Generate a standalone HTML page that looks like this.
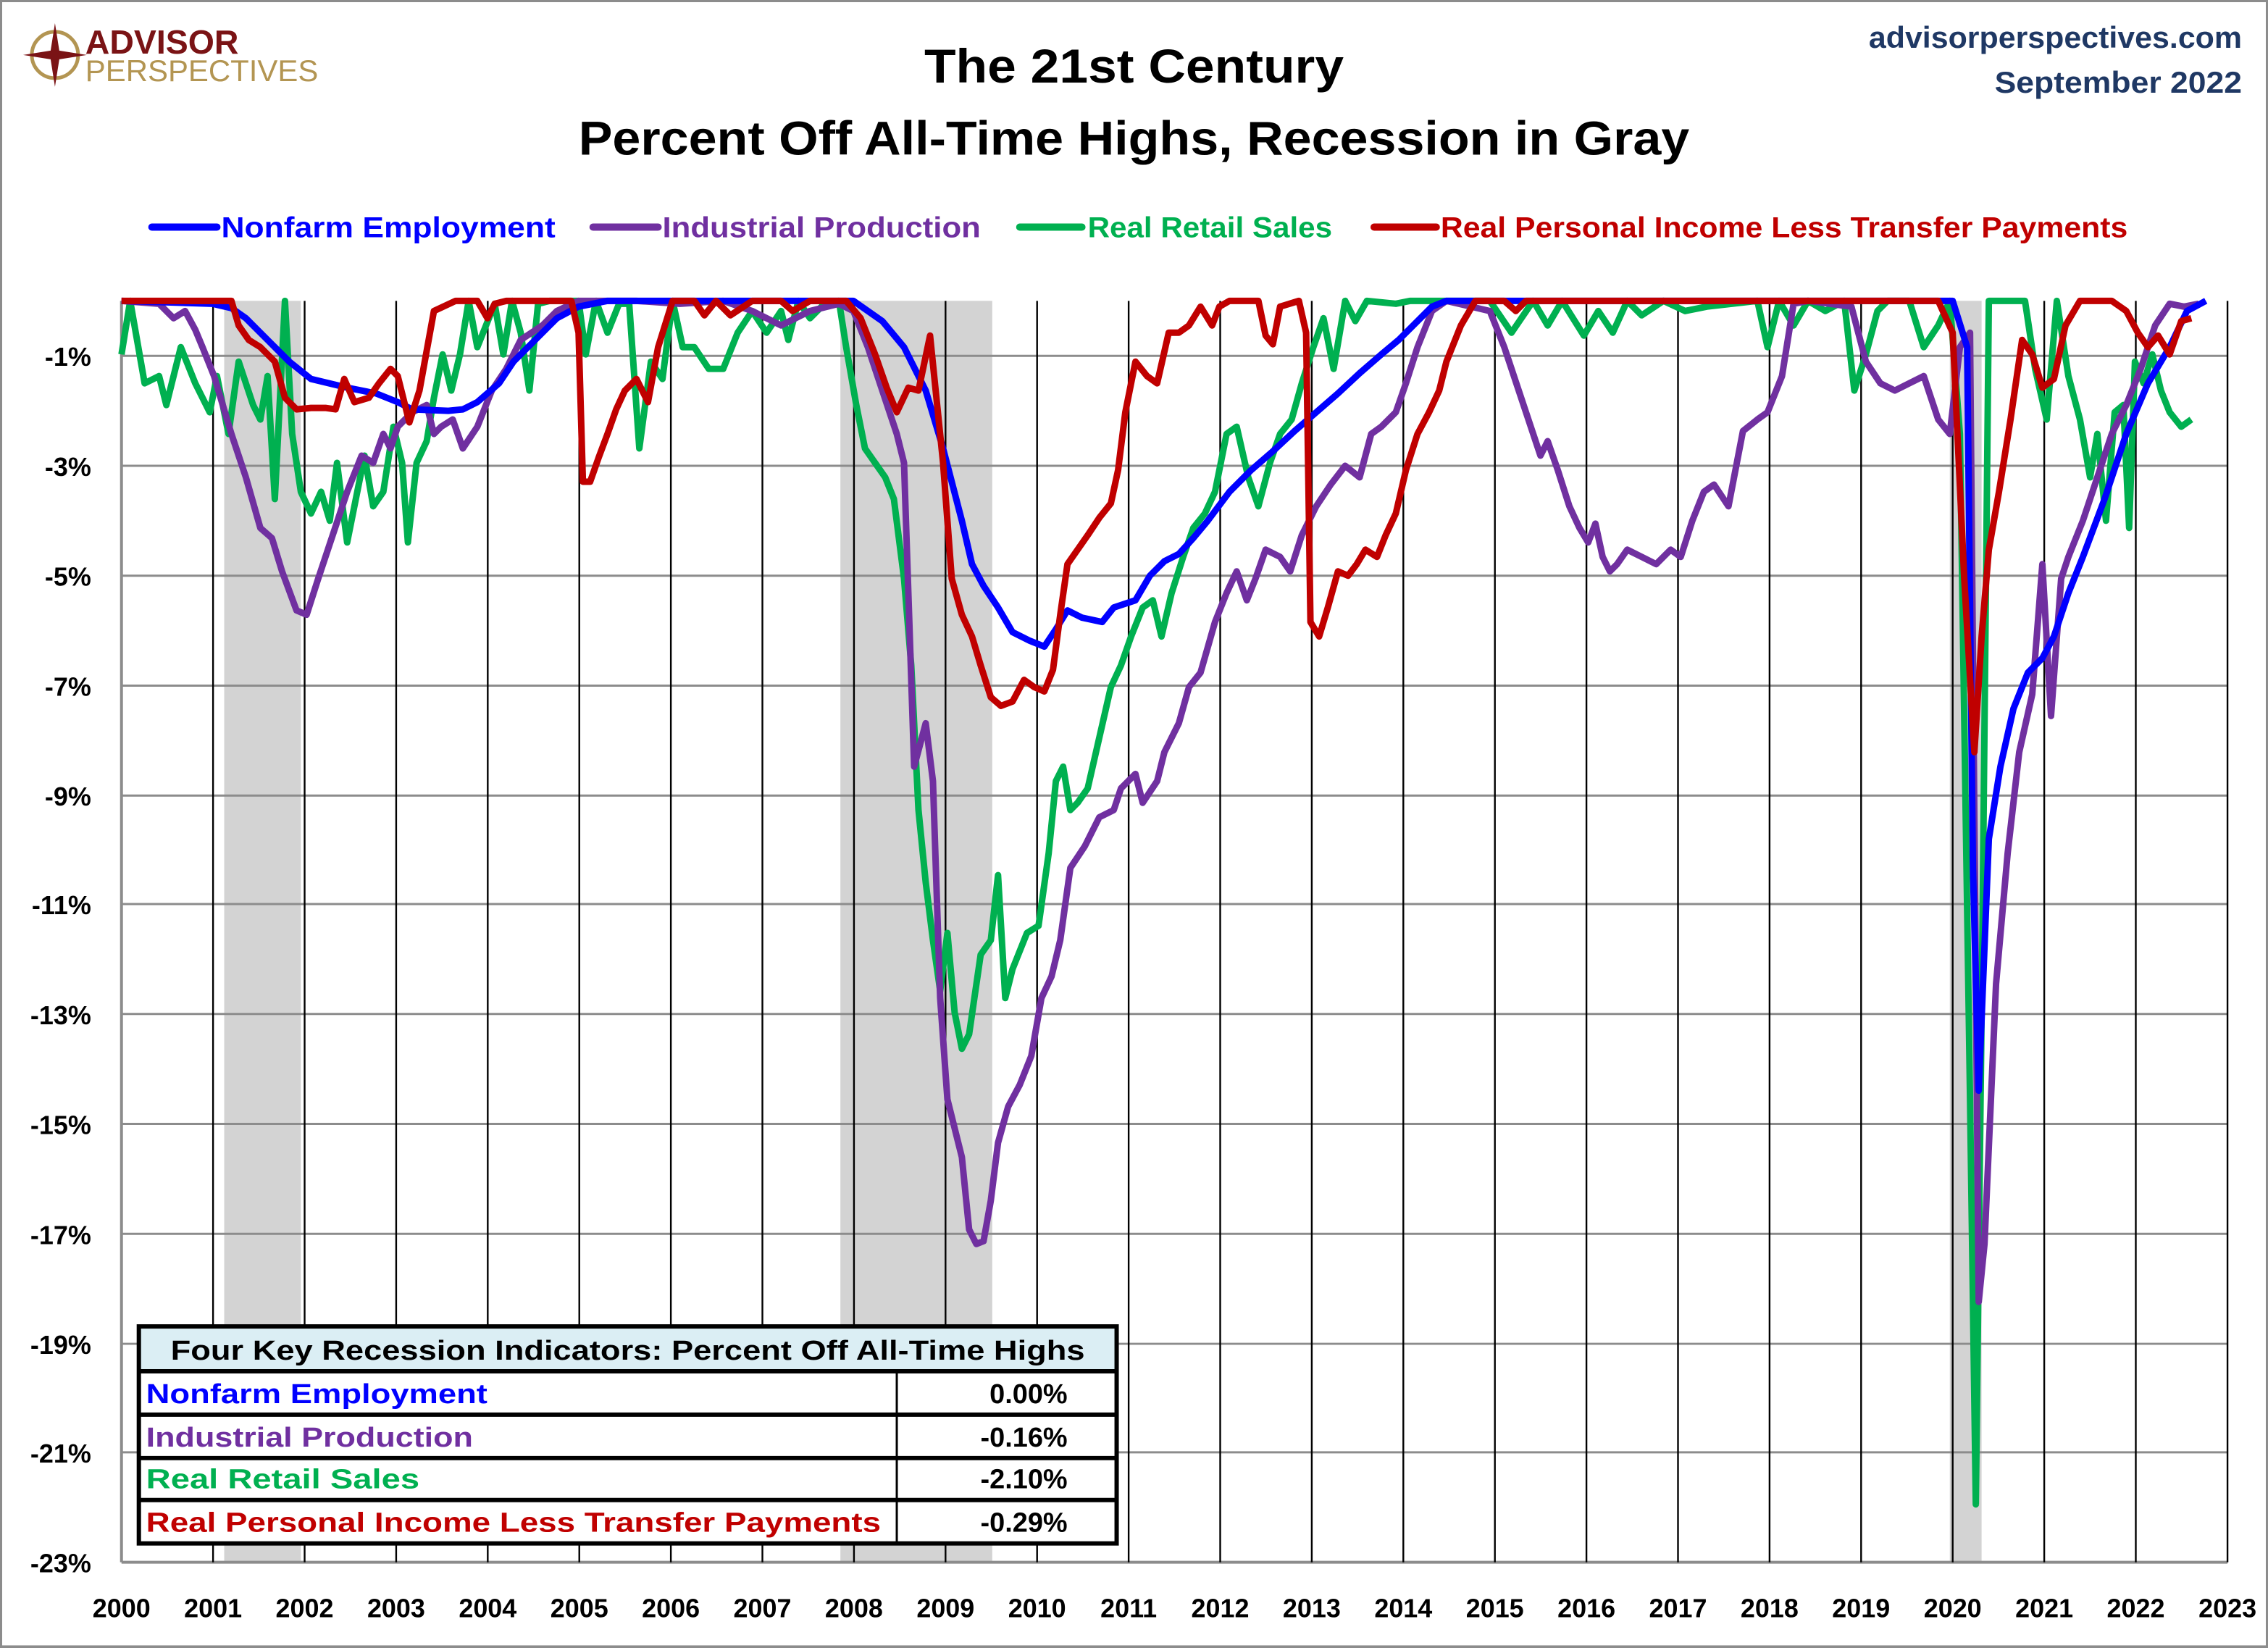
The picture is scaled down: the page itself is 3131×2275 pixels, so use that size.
<!DOCTYPE html>
<html><head><meta charset="utf-8"><style>
html,body{margin:0;padding:0;background:#fff;}
svg{display:block;}
text{font-family:"Liberation Sans",sans-serif;font-weight:bold;}
</style></head><body>
<svg width="3131" height="2275" viewBox="0 0 1568 1139.3" preserveAspectRatio="none" xmlns="http://www.w3.org/2000/svg">
<rect x="0.5" y="0.5" width="1567" height="1138" fill="#fff" stroke="#8c8c8c" stroke-width="2"/>
<circle cx="38" cy="38" r="16" fill="none" stroke="#b39552" stroke-width="2.5"/>
<polygon points="38,16 41,35 60,38 41,41 38,60 35,41 16,38 35,35" fill="#7a1315"/>
<text x="59" y="37" font-size="23" fill="#7a1315" textLength="106" lengthAdjust="spacingAndGlyphs">ADVISOR</text>
<text x="59" y="56" font-size="21" fill="#b39552" style="font-weight:normal" textLength="161" lengthAdjust="spacingAndGlyphs">PERSPECTIVES</text>
<text x="784" y="57" font-size="33" text-anchor="middle" textLength="290" lengthAdjust="spacingAndGlyphs">The 21st Century</text>
<text x="784" y="107" font-size="33" text-anchor="middle" textLength="768" lengthAdjust="spacingAndGlyphs">Percent Off All-Time Highs, Recession in Gray</text>
<text x="1550" y="33" font-size="21" text-anchor="end" fill="#1f3864" textLength="258" lengthAdjust="spacingAndGlyphs">advisorperspectives.com</text>
<text x="1550" y="64" font-size="21" text-anchor="end" fill="#1f3864" textLength="171" lengthAdjust="spacingAndGlyphs">September 2022</text>
<g stroke-width="5" stroke-linecap="round">
<line x1="105" y1="157" x2="150" y2="157" stroke="#0000ff"/>
<line x1="410" y1="157" x2="455" y2="157" stroke="#7030a0"/>
<line x1="705" y1="157" x2="748" y2="157" stroke="#00b050"/>
<line x1="950" y1="157" x2="993" y2="157" stroke="#c00000"/>
</g>
<g font-size="20">
<text x="153" y="164" fill="#0000ff" textLength="231" lengthAdjust="spacingAndGlyphs">Nonfarm Employment</text>
<text x="458" y="164" fill="#7030a0" textLength="220" lengthAdjust="spacingAndGlyphs">Industrial Production</text>
<text x="752" y="164" fill="#00b050" textLength="169" lengthAdjust="spacingAndGlyphs">Real Retail Sales</text>
<text x="996" y="164" fill="#c00000" textLength="475" lengthAdjust="spacingAndGlyphs">Real Personal Income Less Transfer Payments</text>
</g>
<g fill="#d3d3d3">
<rect x="155" y="208" width="53" height="872"/>
<rect x="581" y="208" width="105" height="872"/>
<rect x="1348" y="208" width="22" height="872"/>
</g>
<g stroke="#8c8c8c" stroke-width="1.5">
<line x1="84" x2="1540" y1="246" y2="246"/><line x1="84" x2="1540" y1="322" y2="322"/>
<line x1="84" x2="1540" y1="398" y2="398"/><line x1="84" x2="1540" y1="474" y2="474"/>
<line x1="84" x2="1540" y1="550" y2="550"/><line x1="84" x2="1540" y1="625" y2="625"/>
<line x1="84" x2="1540" y1="701" y2="701"/><line x1="84" x2="1540" y1="777" y2="777"/>
<line x1="84" x2="1540" y1="853" y2="853"/><line x1="84" x2="1540" y1="929" y2="929"/>
<line x1="84" x2="1540" y1="1004" y2="1004"/><line x1="84" x2="1540" y1="1080" y2="1080" stroke-width="2"/>
<line x1="84" x2="84" y1="208" y2="1080" stroke-width="2"/>
</g>
<g stroke="#000" stroke-width="1.2">
<line x1="147.3" x2="147.3" y1="208" y2="1080"/><line x1="210.6" x2="210.6" y1="208" y2="1080"/>
<line x1="273.9" x2="273.9" y1="208" y2="1080"/><line x1="337.2" x2="337.2" y1="208" y2="1080"/>
<line x1="400.5" x2="400.5" y1="208" y2="1080"/><line x1="463.8" x2="463.8" y1="208" y2="1080"/>
<line x1="527.1" x2="527.1" y1="208" y2="1080"/><line x1="590.4" x2="590.4" y1="208" y2="1080"/>
<line x1="653.7" x2="653.7" y1="208" y2="1080"/><line x1="717" x2="717" y1="208" y2="1080"/>
<line x1="780.3" x2="780.3" y1="208" y2="1080"/><line x1="843.6" x2="843.6" y1="208" y2="1080"/>
<line x1="906.9" x2="906.9" y1="208" y2="1080"/><line x1="970.2" x2="970.2" y1="208" y2="1080"/>
<line x1="1033.5" x2="1033.5" y1="208" y2="1080"/><line x1="1096.8" x2="1096.8" y1="208" y2="1080"/>
<line x1="1160.1" x2="1160.1" y1="208" y2="1080"/><line x1="1223.4" x2="1223.4" y1="208" y2="1080"/>
<line x1="1286.7" x2="1286.7" y1="208" y2="1080"/><line x1="1350" x2="1350" y1="208" y2="1080"/>
<line x1="1413.3" x2="1413.3" y1="208" y2="1080"/><line x1="1476.6" x2="1476.6" y1="208" y2="1080"/>
<line x1="1540" x2="1540" y1="208" y2="1080"/>
</g>
<g font-size="18" text-anchor="end">
<text x="63" y="253">-1%</text><text x="63" y="329">-3%</text><text x="63" y="405">-5%</text>
<text x="63" y="481">-7%</text><text x="63" y="557">-9%</text><text x="63" y="632">-11%</text>
<text x="63" y="708">-13%</text><text x="63" y="784">-15%</text><text x="63" y="860">-17%</text>
<text x="63" y="936">-19%</text><text x="63" y="1011">-21%</text><text x="63" y="1087">-23%</text>
</g>
<g font-size="18" text-anchor="middle">
<text x="84" y="1118">2000</text><text x="147.3" y="1118">2001</text><text x="210.6" y="1118">2002</text>
<text x="273.9" y="1118">2003</text><text x="337.2" y="1118">2004</text><text x="400.5" y="1118">2005</text>
<text x="463.8" y="1118">2006</text><text x="527.1" y="1118">2007</text><text x="590.4" y="1118">2008</text>
<text x="653.7" y="1118">2009</text><text x="717" y="1118">2010</text><text x="780.3" y="1118">2011</text>
<text x="843.6" y="1118">2012</text><text x="906.9" y="1118">2013</text><text x="970.2" y="1118">2014</text>
<text x="1033.5" y="1118">2015</text><text x="1096.8" y="1118">2016</text><text x="1160.1" y="1118">2017</text>
<text x="1223.4" y="1118">2018</text><text x="1286.7" y="1118">2019</text><text x="1350" y="1118">2020</text>
<text x="1413.3" y="1118">2021</text><text x="1476.6" y="1118">2022</text><text x="1540" y="1118">2023</text>
</g>
<g fill="none" stroke-width="4.5" stroke-linejoin="round">
<polyline stroke="#00b050" points="84,245 90,208 100,265 110,260 115,280 125,240 135,265 145,285 150,260 158,300 165,250 175,280 180,290 185,260 190,345 197,208 202,300 208,340 215,355 222,340 228,360 233,320 240,375 245,350 252,315 258,350 265,340 272,295 278,320 282,375 288,320 295,305 300,275 306,245 312,270 318,245 324,208 330,240 336,225 342,210 348,245 354,208 360,230 366,270 372,210 380,208 400,208 405,245 412,208 420,230 428,210 435,210 442,310 450,250 458,262 465,208 472,240 480,240 490,255 500,255 510,230 520,215 530,230 540,215 545,235 552,208 560,220 570,210 580,208 585,240 592,280 598,310 605,320 612,330 618,345 625,400 630,460 635,560 640,610 645,650 650,685 655,645 660,700 665,725 670,715 678,660 685,650 690,605 695,690 700,670 710,645 718,640 725,590 730,540 735,530 740,560 745,555 752,545 760,510 768,475 775,460 782,440 790,420 797,415 803,440 810,410 818,385 825,365 833,355 840,340 848,300 855,295 863,330 870,350 878,320 885,300 893,290 900,265 908,240 915,220 922,255 930,208 937,222 945,208 965,210 975,208 1030,208 1045,230 1060,208 1070,225 1080,208 1095,232 1105,215 1115,230 1125,208 1135,218 1150,208 1165,215 1180,212 1215,208 1222,240 1230,208 1240,225 1250,208 1262,215 1275,208 1282,270 1290,245 1298,215 1305,208 1320,208 1330,240 1340,225 1348,208 1355,300 1362,760 1366,1040 1370,700 1375,208 1400,208 1407,255 1415,290 1422,208 1430,260 1438,290 1445,330 1450,300 1456,360 1462,285 1468,280 1472,365 1476,250 1482,265 1488,245 1494,270 1500,285 1508,295 1515,290"/>
<polyline stroke="#7030a0" points="84,208 110,210 120,220 128,215 135,228 140,240 148,260 160,300 170,330 180,365 188,372 195,395 205,422 212,425 220,400 230,370 240,340 250,315 258,320 265,300 270,310 275,295 285,285 295,280 300,300 305,295 313,290 320,310 330,295 340,270 350,255 360,235 375,225 385,215 400,208 440,208 470,210 500,208 520,215 540,225 560,215 580,210 590,215 600,240 610,270 620,300 625,320 632,530 640,500 645,540 650,690 655,760 665,800 670,850 675,860 680,858 685,830 690,790 697,765 705,750 713,730 720,690 727,675 733,650 740,600 750,585 760,565 770,560 775,545 785,535 790,555 800,540 805,520 815,500 822,475 830,465 840,430 848,410 855,395 862,415 868,400 875,380 885,385 892,395 900,370 910,350 920,335 930,322 940,330 948,300 955,295 965,285 972,265 980,240 990,215 1000,208 1030,215 1040,240 1050,270 1060,300 1065,315 1070,305 1077,325 1085,350 1092,365 1098,375 1103,362 1108,385 1113,395 1118,390 1125,380 1135,385 1145,390 1155,380 1162,385 1170,360 1178,340 1185,335 1195,350 1205,298 1215,290 1222,285 1232,260 1240,210 1250,208 1280,212 1290,250 1300,265 1310,270 1320,265 1330,260 1340,290 1348,300 1355,240 1362,230 1368,900 1372,860 1380,680 1388,590 1396,520 1405,480 1412,390 1418,495 1425,400 1430,385 1440,360 1450,330 1460,300 1470,280 1480,255 1490,225 1500,210 1510,212 1520,210"/>
<polyline stroke="#0000ff" points="84,208 147,210 160,213 170,220 185,235 200,250 215,262 240,268 260,272 275,278 285,283 310,284 320,283 330,278 345,265 355,250 370,235 385,220 400,212 420,208 590,208 610,222 625,240 640,270 652,310 665,360 672,390 680,405 690,420 700,437 712,443 722,447 730,435 738,422 748,427 762,430 770,420 785,415 795,398 805,388 815,383 825,372 835,360 850,340 865,325 880,312 895,298 910,285 925,272 940,258 955,245 967,235 980,222 990,212 1000,208 1350,208 1360,240 1364,600 1368,754 1375,580 1383,530 1392,490 1402,465 1412,455 1420,440 1430,410 1440,385 1455,345 1470,300 1485,265 1500,240 1512,215 1525,208"/>
<polyline stroke="#c00000" points="84,208 160,208 165,225 172,235 180,240 190,250 197,275 205,283 215,282 225,282 232,283 238,262 245,278 255,275 262,265 270,255 275,260 283,292 290,270 300,215 315,208 330,208 337,220 342,210 350,208 395,208 400,230 403,333 408,333 414,316 420,300 426,283 432,270 440,262 448,278 455,240 465,208 480,208 487,218 495,208 505,218 520,208 540,208 548,215 560,208 585,208 595,220 605,245 613,268 620,285 628,268 635,270 643,232 652,320 658,400 665,425 672,440 678,460 685,482 692,488 700,485 708,470 715,475 722,478 728,463 733,425 738,390 745,380 752,370 760,358 768,348 773,325 778,285 785,250 793,260 800,265 808,230 815,230 822,225 830,212 838,225 843,212 850,208 870,208 875,232 880,238 885,212 898,208 903,230 906,430 912,440 918,420 925,395 932,398 938,390 944,380 952,385 958,370 965,355 972,325 980,300 988,285 995,270 1000,250 1010,225 1020,208 1040,208 1048,215 1055,208 1340,208 1350,230 1358,400 1365,520 1370,440 1375,380 1382,340 1390,290 1398,235 1405,245 1412,268 1420,262 1428,225 1438,208 1460,208 1470,215 1478,230 1485,240 1492,232 1500,245 1508,222 1515,220"/>
</g>
<rect x="96" y="917" width="676" height="31" fill="#dbeef4"/>
<rect x="96" y="948" width="676" height="119" fill="#fff"/>
<g stroke="#000" stroke-width="3" fill="none">
<rect x="96" y="917" width="676" height="150"/>
<line x1="96" x2="772" y1="948" y2="948"/>
<line x1="96" x2="772" y1="978" y2="978"/>
<line x1="96" x2="772" y1="1008" y2="1008"/>
<line x1="96" x2="772" y1="1037" y2="1037"/>
<line x1="620" x2="620" y1="948" y2="1067" stroke-width="1.5"/>
</g>
<g font-size="19">
<text x="434" y="940" text-anchor="middle" textLength="632" lengthAdjust="spacingAndGlyphs">Four Key Recession Indicators: Percent Off All-Time Highs</text>
<text x="101" y="970" fill="#0000ff" textLength="236" lengthAdjust="spacingAndGlyphs">Nonfarm Employment</text>
<text x="101" y="1000" fill="#7030a0" textLength="226" lengthAdjust="spacingAndGlyphs">Industrial Production</text>
<text x="101" y="1029" fill="#00b050" textLength="189" lengthAdjust="spacingAndGlyphs">Real Retail Sales</text>
<text x="101" y="1059" fill="#c00000" textLength="508" lengthAdjust="spacingAndGlyphs">Real Personal Income Less Transfer Payments</text>
<text x="738" y="970" text-anchor="end">0.00%</text>
<text x="738" y="1000" text-anchor="end">-0.16%</text>
<text x="738" y="1029" text-anchor="end">-2.10%</text>
<text x="738" y="1059" text-anchor="end">-0.29%</text>
</g>
</svg>
</body></html>
